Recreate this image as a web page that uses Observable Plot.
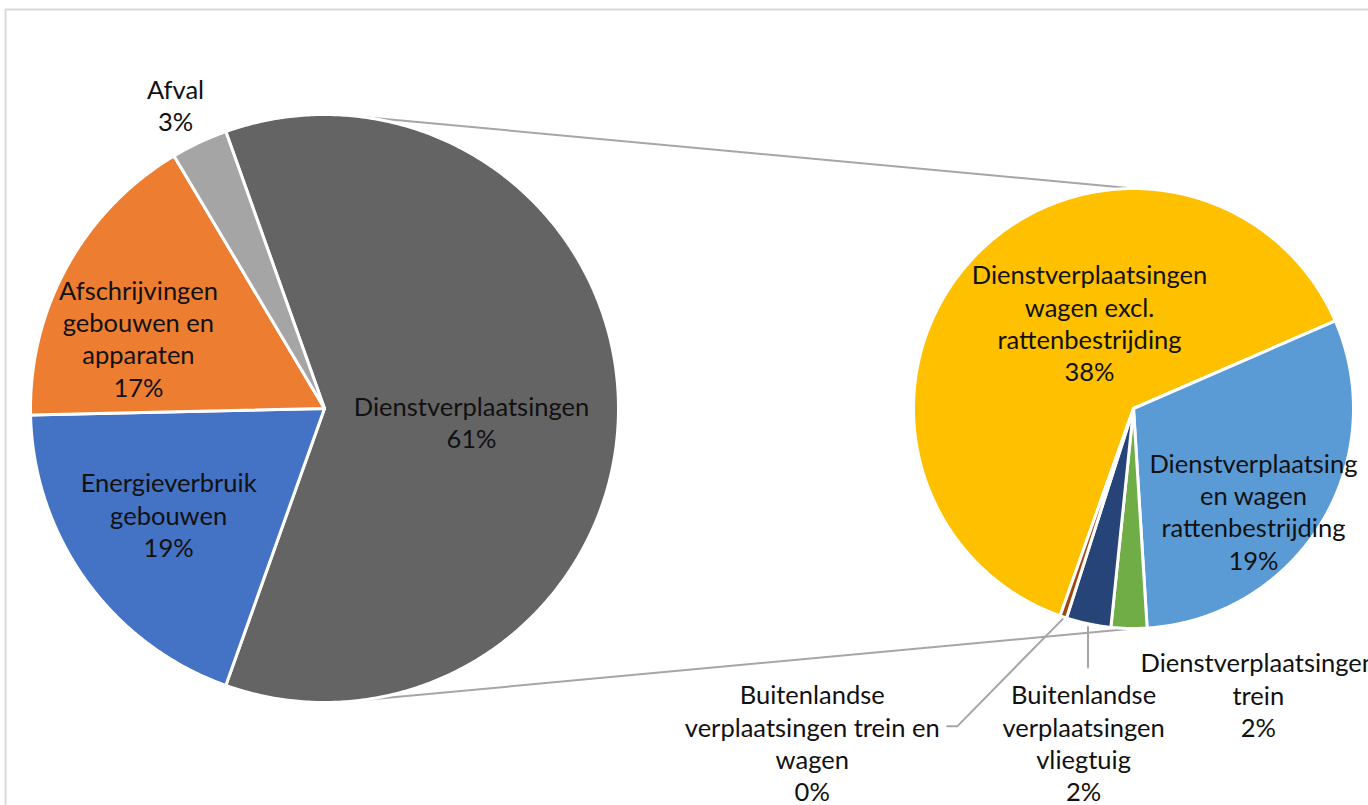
<!DOCTYPE html>
<html>
<head>
<meta charset="utf-8">
<script src="https://cdn.jsdelivr.net/npm/d3@7"></script>
<script src="https://cdn.jsdelivr.net/npm/@observablehq/plot@0.6"></script>
<style>
  html, body { margin: 0; padding: 0; background: #fff; }
  #chart svg { display: block; }
</style>
</head>
<body>
<div id="chart"></div>
<script>
// ---------- DATA ----------
const mainCategories = ["Dienstverplaatsingen", "Energieverbruik gebouwen", "Afschrijvingen gebouwen en apparaten", "Afval"];
const mainValues = [60.9, 19.2, 16.8, 3.1];
const mainLabelLines = ["Dienstverplaatsingen", "Energieverbruik\ngebouwen", "Afschrijvingen\ngebouwen en\napparaten", "Afval"];

const subCategories = [
  "Dienstverplaatsingen wagen excl. rattenbestrijding",
  "Dienstverplaatsingen wagen rattenbestrijding",
  "Dienstverplaatsingen trein",
  "Buitenlandse verplaatsingen vliegtuig",
  "Buitenlandse verplaatsingen trein en wagen"
];
const subValues = [38.4, 18.6, 1.6, 2.0, 0.3];
const subLabelLines = [
  "Dienstverplaatsingen\nwagen excl.\nrattenbestrijding",
  "Dienstverplaatsing\nen wagen\nrattenbestrijding",
  "Dienstverplaatsingen\ntrein",
  "Buitenlandse\nverplaatsingen\nvliegtuig",
  "Buitenlandse\nverplaatsingen trein en\nwagen"
];

// ---------- STYLE / LAYOUT ----------
const mainColors = ["#646464", "#4472C4", "#ED7D31", "#A5A5A5"];
const subColors = ["#FFC000", "#5B9BD5", "#70AD47", "#264478", "#9E480E"];
const W = 1368, H = 805;
const mainPie = {cx: 324, cy: 408, r: 294};
const subPie = {cx: 1133, cy: 408, r: 220};
// label placement: [angle (deg, clockwise from north), radius as fraction of pie radius]
const mainLabelPos = [[95.05, 0.502], [235.8, 0.641], [290.8, 0.677], [333.9, 1.152]];
const subLabelPos = [[332.9, 0.439], [130.5, 0.717], [156.4, 1.417], [188.5, 1.535], [223.9, 2.106]];

const pt = (pie, deg, rf) => {
  const a = deg * Math.PI / 180;
  return [pie.cx + pie.r * rf * Math.sin(a), pie.cy - pie.r * rf * Math.cos(a)];
};

function slices(pie, cats, vals, colors, startDeg) {
  const total = d3.sum(vals);
  const pts = [];
  const info = [];
  let a0 = startDeg;
  cats.forEach((c, i) => {
    const span = vals[i] / total * 360;
    const a1 = a0 + span;
    const [x0, y0] = pt(pie, 0, 0);
    pts.push({name: c, x: x0, y: y0, color: colors[i]});
    const n = Math.max(2, Math.ceil(span / 0.5));
    for (let k = 0; k <= n; k++) {
      const [x, y] = pt(pie, a0 + span * k / n, 1);
      pts.push({name: c, x, y, color: colors[i]});
    }
    info.push({name: c, a0, a1, mid: (a0 + a1) / 2});
    a0 = a1;
  });
  return {pts, info};
}

const mainTotal = d3.sum(mainValues);
const otherSpan = mainValues[0] / mainTotal * 360;
const mainStart = 90 - otherSpan / 2;
const main = slices(mainPie, mainCategories, mainValues, mainColors, mainStart);
const sub = slices(subPie, subCategories, subValues, subColors, 199.5);

const pct = v => Math.round(v) + "%";
const labels = [
  ...mainCategories.map((c, i) => {
    const [x, y] = pt(mainPie, ...mainLabelPos[i]);
    return {x, y, text: mainLabelLines[i] + "\n" + pct(mainValues[i])};
  }),
  ...subCategories.map((c, i) => {
    const [x, y] = pt(subPie, ...subLabelPos[i]);
    return {x, y, text: subLabelLines[i] + "\n" + pct(subValues[i])};
  })
];

// connector lines between the pies
const connectors = [
  {p1: pt(mainPie, 7, 1), p2: pt(subPie, 0, 1)},
  {p1: pt(mainPie, 173, 1), p2: pt(subPie, 180, 1)}
];

// leader lines for the small slices
const brown = sub.info[4], navy = sub.info[3];
const brownLabel = pt(subPie, ...subLabelPos[4]);
const navyLabel = pt(subPie, ...subLabelPos[3]);
const bStart = pt(subPie, brown.mid, 1.01);
const nStart = pt(subPie, navy.mid, 1.01);
const leaders = [
  {id: "b", x: bStart[0], y: bStart[1]},
  {id: "b", x: brownLabel[0] + 145, y: brownLabel[1] - 16},
  {id: "b", x: brownLabel[0] + 135, y: brownLabel[1] - 16},
  {id: "n", x: nStart[0], y: nStart[1] + 1},
  {id: "n", x: nStart[0], y: navyLabel[1] - 75}
];

const chart = Plot.plot({
  width: W, height: H, margin: 0,
  x: {domain: [0, W], range: [0, W], axis: null},
  y: {domain: [0, H], range: [0, H], axis: null},
  style: {fontFamily: "Lato, 'Open Sans', sans-serif", background: "#fff"},
  marks: [
    Plot.ruleY([9], {x1: 5, x2: W, stroke: "#d9d9d9", strokeWidth: 2}),
    Plot.ruleX([5], {y1: 9, y2: H, stroke: "#d9d9d9", strokeWidth: 2}),
    Plot.link(connectors, {x1: d => d.p1[0], y1: d => d.p1[1], x2: d => d.p2[0], y2: d => d.p2[1], stroke: "#a6a6a6", strokeWidth: 2}),
    Plot.line(main.pts, {x: "x", y: "y", z: "name", fill: "color", stroke: "#fff", strokeWidth: 3, curve: "linear-closed"}),
    Plot.line(sub.pts, {x: "x", y: "y", z: "name", fill: "color", stroke: "#fff", strokeWidth: 3, curve: "linear-closed"}),
    Plot.line(leaders, {x: "x", y: "y", z: "id", stroke: "#a6a6a6", strokeWidth: 2}),
    Plot.text(labels, {x: "x", y: "y", text: "text", fontSize: 25.5, lineHeight: 1.27, fill: "#111", lineAnchor: "middle"})
  ]
});
document.getElementById("chart").appendChild(chart);
</script>
</body>
</html>
